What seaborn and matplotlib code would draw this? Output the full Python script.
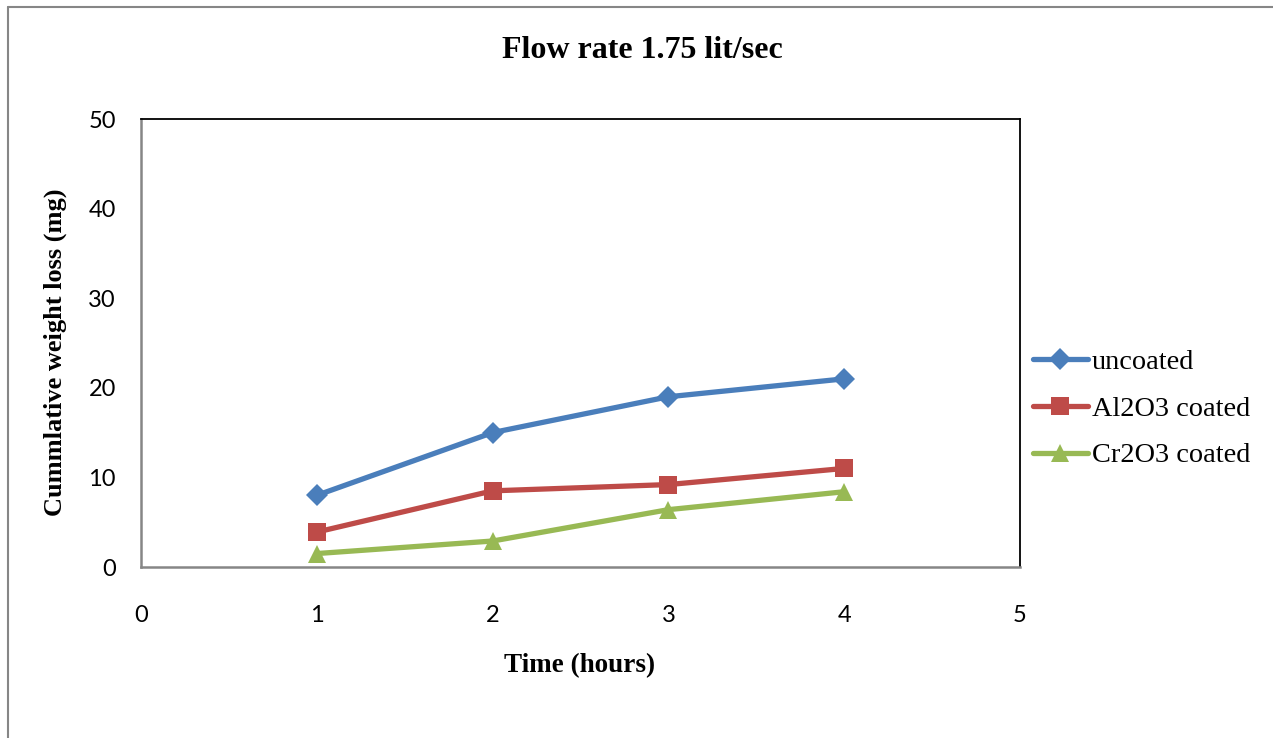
import matplotlib
matplotlib.use("Agg")
import matplotlib.pyplot as plt
import seaborn as sns
import pandas as pd
from matplotlib.lines import Line2D

hours = [1, 2, 3, 4]
uncoated = [8, 15, 19, 21]
al2o3_coated = [3.9, 8.5, 9.2, 11]
cr2o3_coated = [1.5, 2.9, 6.4, 8.4]
series_names = ["uncoated", "Al2O3 coated", "Cr2O3 coated"]
x_ticks = [0, 1, 2, 3, 4, 5]
y_ticks = [0, 10, 20, 30, 40, 50]

df = pd.DataFrame({
    "Time": hours * 3,
    "Loss": uncoated + al2o3_coated + cr2o3_coated,
    "Series": [series_names[0]] * 4 + [series_names[1]] * 4 + [series_names[2]] * 4,
})

sns.set_style("white")
plt.rcParams.update({"text.color": "black", "axes.labelcolor": "black",
                     "xtick.color": "black", "ytick.color": "black"})
colors = ["#4A7EBB", "#BE4B48", "#98B954"]
markers = ["D", "s", "^"]
msizes = [11, 13, 13]

W, H = 1273, 738
fig = plt.figure(figsize=(W / 100, H / 100), dpi=100)
ax = fig.add_axes([141 / W, 1 - 567 / H, (1020 - 141) / W, (567 - 119) / H])

handles = []
for name, c, m, ms in zip(series_names, colors, markers, msizes):
    sub = df[df["Series"] == name]
    sns.lineplot(data=sub, x="Time", y="Loss", ax=ax, color=c, linewidth=3.8,
                 marker=m, markersize=ms, markeredgewidth=0, legend=False)
    handles.append(Line2D([0], [0], color=c, linewidth=3.8, marker=m,
                          markersize=ms, markeredgewidth=0, label=name))

ax.set_xlabel("")
ax.set_ylabel("")
ax.set_xlim(0, 5)
ax.set_ylim(0, 50)
ax.set_xticks(x_ticks)
ax.set_yticks(y_ticks)
ax.tick_params(axis="y", labelsize=17, length=0, pad=18)
ax.tick_params(axis="x", labelsize=17, length=0, pad=27)
for lbl in ax.get_xticklabels() + ax.get_yticklabels():
    lbl.set_fontfamily("Lato")

for side in ["top", "right"]:
    ax.spines[side].set_color("black")
    ax.spines[side].set_linewidth(1.3)
for side in ["left", "bottom"]:
    ax.spines[side].set_color("#868686")
    ax.spines[side].set_linewidth(1.8)

serif_bold = {"fontfamily": "Liberation Serif", "fontweight": "bold"}
fig.text(580 / W, 1 - 666 / H, "Time (hours)", ha="center", va="center",
         fontsize=19.5, **serif_bold)
fig.text(55 / W, 1 - 352 / H, "Cummlative weight loss (mg)", ha="center",
         va="center", rotation=90, fontsize=19, **serif_bold)
fig.text(642 / W, 1 - 51 / H, "Flow rate 1.75 lit/sec", ha="center", va="center",
         fontsize=23, **serif_bold)

fig.legend(handles=handles, loc="center left",
           bbox_to_anchor=(1033 / W, 1 - 409 / H), frameon=False,
           prop={"family": "Liberation Serif", "size": 20.4},
           handlelength=1.94, handletextpad=0.14, labelspacing=0.73,
           borderpad=0, borderaxespad=0)

# outer chart frame (top and left edges)
fig.add_artist(Line2D([8 / W, 8 / W], [0, 1 - 7 / H],
                      transform=fig.transFigure, color="#868686", linewidth=1.5))
fig.add_artist(Line2D([8 / W, 1], [1 - 7 / H, 1 - 7 / H],
                      transform=fig.transFigure, color="#868686", linewidth=1.5))

fig.savefig("out.png", dpi=100)
